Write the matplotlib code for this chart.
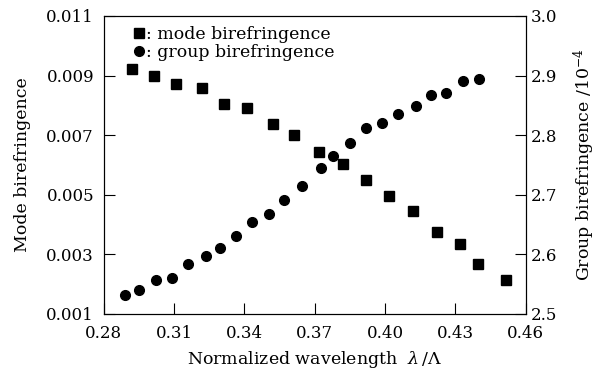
import matplotlib.pyplot as plt

plt.rcParams['font.family'] = 'DejaVu Serif'
plt.rcParams['mathtext.fontset'] = 'dejavuserif'

# mode birefringence (squares, left axis)
wl_mode = [0.292, 0.3015, 0.311, 0.322, 0.3315, 0.341, 0.352, 0.361, 0.372,
           0.382, 0.392, 0.4015, 0.412, 0.422, 0.432, 0.4395, 0.4515]
mode_bf = [0.00922, 0.00899, 0.00871, 0.00859, 0.00805, 0.00791, 0.00737,
           0.00699, 0.00645, 0.00604, 0.0055, 0.00497, 0.00444, 0.00375,
           0.00335, 0.00266, 0.00215]

# group birefringence (circles, right axis, x1e-4)
wl_group = [0.2891, 0.2951, 0.3023, 0.309, 0.3161, 0.3234, 0.3296, 0.3364,
            0.3433, 0.3505, 0.3568, 0.3645, 0.3726, 0.3776, 0.3852, 0.392,
            0.3989, 0.4057, 0.413, 0.4194, 0.4261, 0.4331, 0.4402]
group_bf = [2.532, 2.5405, 2.556, 2.56, 2.5837, 2.5966, 2.611, 2.630,
            2.6545, 2.668, 2.6916, 2.715, 2.7455, 2.765, 2.787, 2.8125,
            2.821, 2.836, 2.8496, 2.867, 2.8715, 2.891, 2.8946]

x_ticks = [0.28, 0.31, 0.34, 0.37, 0.40, 0.43, 0.46]
y1_ticks = [0.001, 0.003, 0.005, 0.007, 0.009, 0.011]
y2_ticks = [2.5, 2.6, 2.7, 2.8, 2.9, 3.0]

fig = plt.figure(figsize=(6.07, 3.71), dpi=100)
ax = fig.add_axes([0.171, 0.154, 0.695, 0.803])
ax2 = ax.twinx()

sq, = ax.plot(wl_mode, mode_bf, 's', color='black', markersize=6.5,
              linestyle='none')
ci, = ax2.plot(wl_group, group_bf, 'o', color='black', markersize=7,
               linestyle='none')

ax.set_xlim(0.28, 0.46)
ax.set_ylim(0.001, 0.011)
ax2.set_ylim(2.5, 3.0)
ax.set_xticks(x_ticks)
ax.set_xticklabels([f'{v:.2f}' for v in x_ticks])
ax.set_yticks(y1_ticks)
ax.set_yticklabels([f'{v:.3f}' for v in y1_ticks])
ax2.set_yticks(y2_ticks)
ax2.set_yticklabels([f'{v:.1f}' for v in y2_ticks])

ax.tick_params(axis='both', direction='in', length=8, width=0.8,
               labelsize=12, top=False, right=False)
ax.tick_params(axis='x', pad=8)
ax.tick_params(axis='y', pad=7)
ax2.tick_params(axis='y', direction='in', length=8, width=0.8, labelsize=12,
                pad=4)

ax.set_xlabel(r'Normalized wavelength  $\lambda\,/\Lambda$', fontsize=12.5,
              labelpad=5)
ax.set_ylabel('Mode birefringence', fontsize=12.5, labelpad=11)
ax2.set_ylabel(r'Group birefringence /10$^{-4}$', fontsize=12.5, labelpad=10)

ax.legend([sq, ci], [': mode birefringence', ': group birefringence'],
          loc='upper left', bbox_to_anchor=(0.046, 1.0), frameon=False,
          handletextpad=0.1, handlelength=0.6, fontsize=12.5,
          labelspacing=0.05, borderaxespad=0.2)

fig.savefig('out.png', dpi=100)
